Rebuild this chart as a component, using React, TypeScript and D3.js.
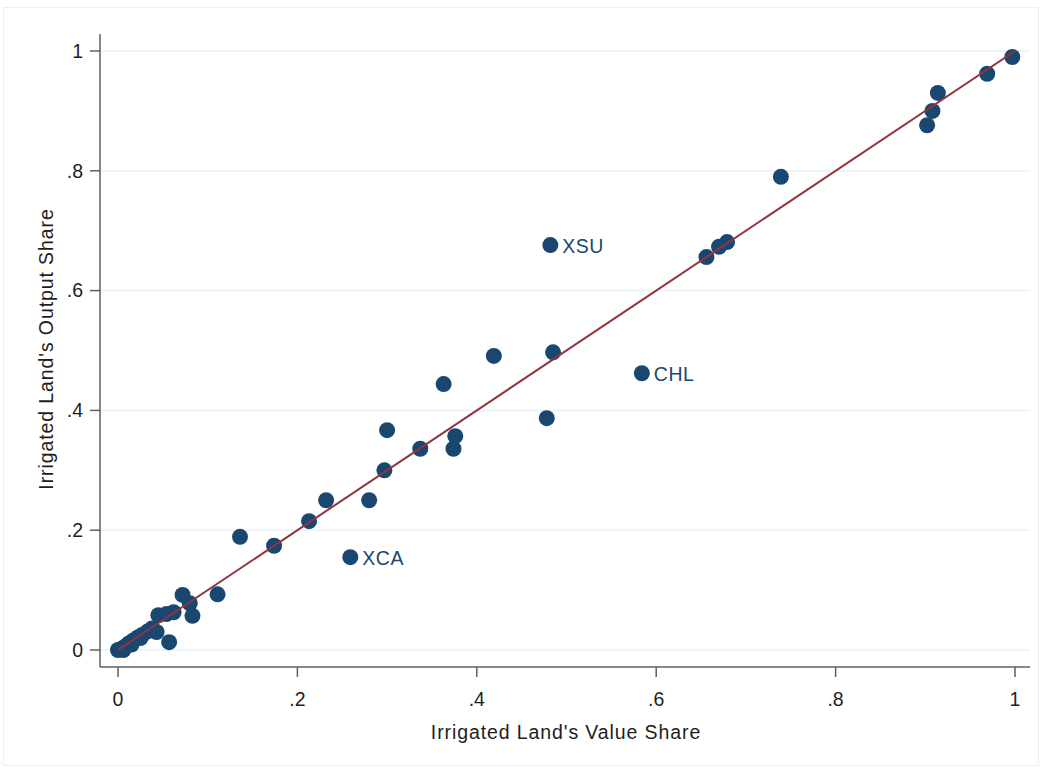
import React, { useEffect, useRef } from "react";
import * as d3 from "d3";

// value share (x) and output share (y) per country
const valueShare = [
  0.997, 0.969, 0.914, 0.908, 0.902, 0.739, 0.679, 0.67, 0.656, 0.482,
  0.485, 0.584, 0.478, 0.419, 0.363, 0.3, 0.376, 0.374, 0.337, 0.297,
  0.28, 0.232, 0.213, 0.174, 0.136, 0.259, 0.111, 0.072, 0.08, 0.083,
  0.045, 0.054, 0.062, 0.043, 0.057, 0.0, 0.004, 0.008, 0.012, 0.017,
  0.022, 0.027, 0.033, 0.038, 0.006, 0.015, 0.025,
];
const outputShare = [
  0.99, 0.962, 0.93, 0.9, 0.876, 0.79, 0.681, 0.673, 0.656, 0.676,
  0.497, 0.462, 0.387, 0.491, 0.444, 0.367, 0.357, 0.336, 0.336, 0.3,
  0.25, 0.25, 0.215, 0.174, 0.189, 0.155, 0.093, 0.092, 0.078, 0.057,
  0.058, 0.06, 0.063, 0.03, 0.013, 0.0, 0.002, 0.006, 0.011, 0.016,
  0.021, 0.025, 0.031, 0.036, 0.0, 0.009, 0.02,
];
const pointLabels: Record<number, string> = { 9: "XSU", 11: "CHL", 25: "XCA" };
const tickValues = [0, 0.2, 0.4, 0.6, 0.8, 1];
const tickLabels = ["0", ".2", ".4", ".6", ".8", "1"];

const W = 1045;
const H = 772;

export default function App() {
  const ref = useRef<SVGSVGElement | null>(null);

  useEffect(() => {
    if (!ref.current) return;
    const svg = d3.select(ref.current);
    svg.selectAll("*").remove();

    const font = "'Liberation Sans', Arial, sans-serif";
    const navy = "#1a476f";
    const axisColor = "#5f5f5f";
    const textColor = "#1e1e1e";
    const fs = 19.5;

    // outer frame
    svg.append("rect").attr("x", 3.5).attr("y", 7.5).attr("width", W - 10).attr("height", H - 14)
      .attr("fill", "#fff").attr("stroke", "#eef0f0");

    const x = d3.scaleLinear().domain([0, 1]).range([118, 1015]);
    const y = d3.scaleLinear().domain([0, 1]).range([650, 51]);
    const plotLeft = 100, plotRight = 1030, plotTop = 34, plotBottom = 667;

    // gridlines
    svg.append("g").selectAll("line").data(tickValues).enter().append("line")
      .attr("x1", plotLeft).attr("x2", plotRight)
      .attr("y1", (d) => y(d)).attr("y2", (d) => y(d))
      .attr("stroke", "#eaf2f3").attr("stroke-width", 1.5);

    // axes lines
    svg.append("line").attr("x1", plotLeft).attr("x2", plotLeft).attr("y1", plotTop).attr("y2", plotBottom)
      .attr("stroke", axisColor).attr("stroke-width", 1.5);
    svg.append("line").attr("x1", plotLeft).attr("x2", plotRight).attr("y1", plotBottom).attr("y2", plotBottom)
      .attr("stroke", axisColor).attr("stroke-width", 1.5);

    // y ticks
    const yt = svg.append("g").selectAll("g").data(tickValues).enter().append("g");
    yt.append("line").attr("x1", plotLeft - 10).attr("x2", plotLeft)
      .attr("y1", (d) => y(d)).attr("y2", (d) => y(d)).attr("stroke", axisColor).attr("stroke-width", 1.5);
    yt.append("text").attr("x", 83).attr("y", (d) => y(d)).attr("dy", "0.35em")
      .attr("text-anchor", "end").attr("font-family", font).attr("font-size", fs).attr("fill", textColor)
      .text((_, i) => tickLabels[i]);

    // x ticks
    const xt = svg.append("g").selectAll("g").data(tickValues).enter().append("g");
    xt.append("line").attr("x1", (d) => x(d)).attr("x2", (d) => x(d))
      .attr("y1", plotBottom).attr("y2", plotBottom + 10).attr("stroke", axisColor).attr("stroke-width", 1.5);
    xt.append("text").attr("x", (d) => x(d)).attr("y", 699).attr("dy", "0.35em")
      .attr("text-anchor", "middle").attr("font-family", font).attr("font-size", fs).attr("fill", textColor)
      .text((_, i) => tickLabels[i]);

    // axis titles
    svg.append("text").attr("x", 566).attr("y", 732).attr("dy", "0.35em").attr("text-anchor", "middle")
      .attr("font-family", font).attr("font-size", fs).attr("letter-spacing", 0.9).attr("fill", textColor)
      .text("Irrigated Land's Value Share");
    svg.append("text").attr("transform", "translate(46,349) rotate(-90)").attr("dy", "0.35em")
      .attr("text-anchor", "middle").attr("font-family", font).attr("font-size", fs)
      .attr("letter-spacing", 0.9).attr("fill", textColor)
      .text("Irrigated Land's Output Share");

    // points
    const pts = valueShare.map((v, i) => ({ x: v, y: outputShare[i], label: pointLabels[i] }));
    svg.append("g").selectAll("circle").data(pts).enter().append("circle")
      .attr("cx", (d) => x(d.x)).attr("cy", (d) => y(d.y)).attr("r", 8)
      .attr("fill", navy);

    // 45-degree line
    const line = d3.line<[number, number]>().x((d) => x(d[0])).y((d) => y(d[1]));
    svg.append("path").datum([[0, 0], [1, 1]] as [number, number][])
      .attr("d", line).attr("fill", "none").attr("stroke", "#90353b").attr("stroke-width", 2);

    // marker labels
    svg.append("g").selectAll("text").data(pts.filter((p) => p.label)).enter().append("text")
      .attr("x", (d) => x(d.x) + 12).attr("y", (d) => y(d.y) + 1).attr("dy", "0.35em")
      .attr("font-family", font).attr("font-size", fs).attr("letter-spacing", 0.5).attr("fill", navy)
      .text((d) => d.label as string);
  }, []);

  return <svg ref={ref} width={W} height={H} style={{ display: "block", position: "absolute", left: 0, top: 0 }} />;
}
